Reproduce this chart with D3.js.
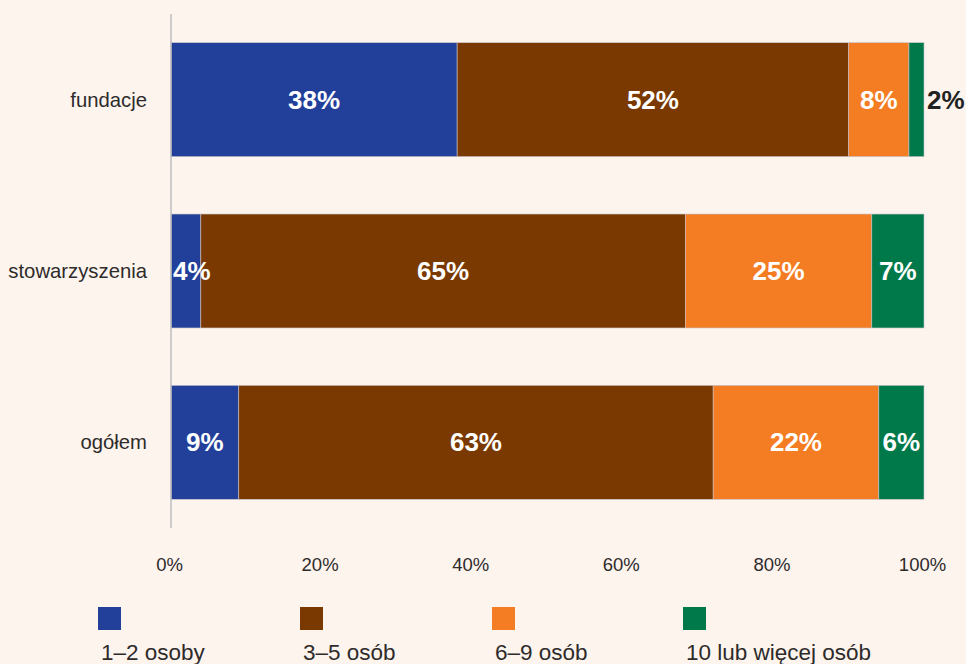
<!DOCTYPE html>
<html>
<head>
<meta charset="utf-8">
<script src="https://cdn.jsdelivr.net/npm/d3@7"></script>
<style>
  html, body { margin: 0; padding: 0; background: #fdf4ee; }
  svg { display: block; }
  text { font-family: "Liberation Sans", Arial, sans-serif; }
</style>
</head>
<body>
<svg id="chart" width="966" height="664"></svg>
<script>
// Organisation type rows and team-size groups
const categories = ["fundacje", "stowarzyszenia", "ogółem"];
const seriesNames = ["1–2 osoby", "3–5 osób", "6–9 osób", "10 lub więcej osób"];
const seriesColors = ["#22409a", "#7a3900", "#f47c22", "#00794a"];

// Percent shares per row, in series order
const share12 = [38, 4, 9];
const share35 = [52, 65, 63];
const share69 = [8, 25, 22];
const share10 = [2, 7, 6];

const tickValues = [0, 0.2, 0.4, 0.6, 0.8, 1];
const tickLabels = ["0%", "20%", "40%", "60%", "80%", "100%"];

const rows = categories.map((c, i) => ({
  cat: c,
  s0: share12[i], s1: share35[i], s2: share69[i], s3: share10[i]
}));
const keys = ["s0", "s1", "s2", "s3"];

const svg = d3.select("#chart");
const plotLeft = 171, plotRight = 924, plotTop = 14, plotBottom = 528;

const x = d3.scaleLinear().domain([0, 1]).range([plotLeft, plotRight]);
const y = d3.scaleBand().domain(categories).range([plotTop, plotBottom])
  .paddingInner(0.335).paddingOuter(0.1675);

const stacked = d3.stack().keys(keys).offset(d3.stackOffsetExpand)(rows);

// Segments
const layers = svg.append("g").selectAll("g")
  .data(stacked).join("g")
  .attr("fill", (d, i) => seriesColors[i]);

layers.selectAll("rect")
  .data(d => d.map(p => ({ p, key: d.key })))
  .join("rect")
  .attr("x", d => x(d.p[0]))
  .attr("y", d => y(d.p.data.cat))
  .attr("width", d => x(d.p[1]) - x(d.p[0]))
  .attr("height", y.bandwidth())
  .attr("stroke", "#c9c2c8")
  .attr("stroke-width", 0.6);

// Value labels
const labelData = [];
stacked.forEach((layer, li) => {
  layer.forEach(p => {
    const v = p.data[layer.key];
    labelData.push({ v, x0: x(p[0]), x1: x(p[1]), cat: p.data.cat, last: li === keys.length - 1 });
  });
});

const labels = svg.append("g").selectAll("text")
  .data(labelData).join("text")
  .attr("y", d => y(d.cat) + y.bandwidth() / 2)
  .attr("dy", "0.35em")
  .attr("font-size", 26)
  .attr("font-weight", "bold")
  .text(d => d.v + "%");

labels.each(function (d) {
  const t = d3.select(this);
  const w = this.getComputedTextLength();
  const segW = d.x1 - d.x0;
  if (d.last && segW < w + 4) {
    t.attr("x", d.x1 + 3).attr("text-anchor", "start").attr("fill", "#222");
  } else if (segW < w + 4) {
    t.attr("x", d.x0 + 2).attr("text-anchor", "start").attr("fill", "#fff");
  } else {
    t.attr("x", (d.x0 + d.x1) / 2).attr("text-anchor", "middle").attr("fill", "#fff");
  }
});

// Vertical axis line
svg.append("line")
  .attr("x1", plotLeft).attr("x2", plotLeft)
  .attr("y1", plotTop).attr("y2", plotBottom)
  .attr("stroke", "#bdbdbd").attr("stroke-width", 1.5);

// Category labels
svg.append("g").selectAll("text")
  .data(categories).join("text")
  .attr("x", 147)
  .attr("y", d => y(d) + y.bandwidth() / 2)
  .attr("dy", "0.35em")
  .attr("text-anchor", "end")
  .attr("font-size", 20.3)
  .attr("fill", "#2e2b2b")
  .text(d => d);

// Bottom axis tick labels
const xAxis = d3.axisBottom(x)
  .tickValues(tickValues)
  .tickFormat((d, i) => tickLabels[i])
  .tickSize(0).tickPadding(0);
const ax = svg.append("g").attr("transform", "translate(-2,565)").call(xAxis);
ax.select(".domain").remove();
ax.selectAll("text")
  .attr("dy", "0.35em")
  .attr("font-size", 18.5)
  .attr("font-family", "Liberation Sans, Arial, sans-serif")
  .attr("fill", "#2e2b2b");

// Legend
const legendX = [98, 300, 492, 683];
const legend = svg.append("g").selectAll("g")
  .data(seriesNames).join("g")
  .attr("transform", (d, i) => `translate(${legendX[i]},607)`);
legend.append("rect")
  .attr("width", 23).attr("height", 23)
  .attr("fill", (d, i) => seriesColors[i]);
legend.append("text")
  .attr("x", 3).attr("y", 53)
  .attr("font-size", 22.5)
  .attr("fill", "#2e2b2b")
  .text(d => d);
</script>
</body>
</html>
